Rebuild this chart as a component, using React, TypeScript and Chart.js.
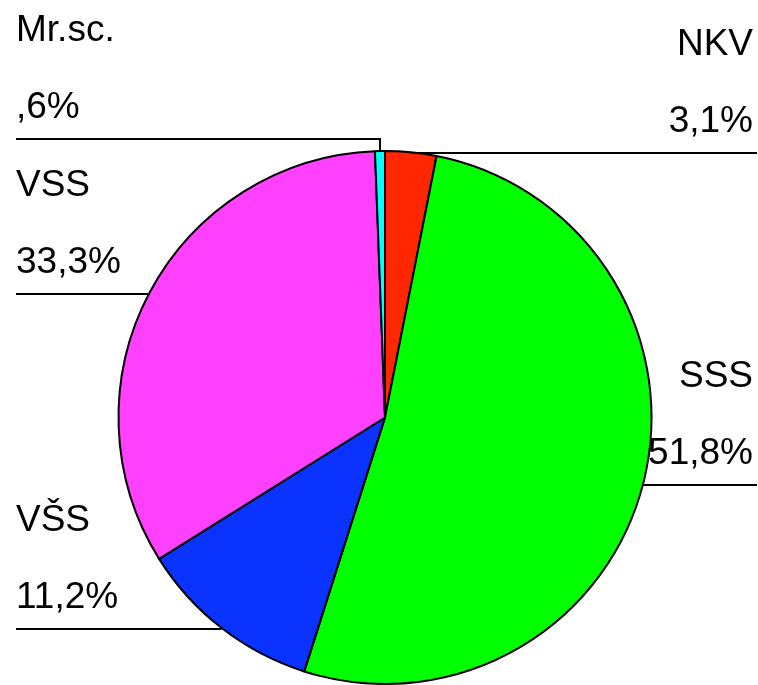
import React, { useEffect, useRef } from "react";
import { Chart, registerables } from "chart.js";

Chart.register(...registerables);

const categories = ["NKV", "SSS", "VŠS", "VSS", "Mr.sc."];
const values = [3.1, 51.8, 11.2, 33.3, 0.6];
const valueLabels = ["3,1%", "51,8%", "11,2%", "33,3%", ",6%"];
const colors = ["#FF2600", "#00FF00", "#0A33FF", "#FF40FF", "#00FFFF"];

const labelPlugin = {
  id: "leaderLabels",
  afterDraw(chart: any) {
    const ctx = chart.ctx;
    const meta = chart.getDatasetMeta(0);
    const area = chart.chartArea;
    const W = chart.width;
    ctx.save();
    ctx.strokeStyle = "#000";
    ctx.lineWidth = 2;
    ctx.fillStyle = "#000";
    ctx.font = '37px "Liberation Sans", Arial, sans-serif';
    ctx.textBaseline = "alphabetic";
    meta.data.forEach((arc: any, i: number) => {
      const p = arc.getProps(["x", "y", "startAngle", "endAngle", "outerRadius"], true);
      const mid = (p.startAngle + p.endAngle) / 2;
      const px = p.x + Math.cos(mid) * p.outerRadius;
      const py = Math.round(p.y + Math.sin(mid) * p.outerRadius) + 1;
      const right = Math.cos(mid) > 0;
      let lineY = py;
      ctx.beginPath();
      if (right) {
        ctx.moveTo(px, lineY);
        ctx.lineTo(W - 1, lineY);
      } else {
        const nearTop = py < area.top + 10;
        if (nearTop) lineY = py - 13;
        ctx.moveTo(16, lineY);
        ctx.lineTo(px, lineY);
        if (nearTop) ctx.lineTo(px, py);
      }
      ctx.stroke();
      const valY = lineY - 21;
      const nameY = valY - 77;
      ctx.textAlign = right ? "right" : "left";
      const tx = right ? W - 5 : 16;
      ctx.fillText(categories[i], tx, nameY);
      ctx.fillText(valueLabels[i], tx, valY);
    });
    ctx.restore();
  },
};

export default function App() {
  const ref = useRef<HTMLCanvasElement>(null);
  useEffect(() => {
    if (!ref.current) return;
    const chart = new Chart(ref.current, {
      type: "pie",
      data: {
        labels: categories,
        datasets: [
          {
            data: values,
            backgroundColor: colors,
            borderColor: "#000",
            borderWidth: 2,
          },
        ],
      },
      options: {
        responsive: false,
        animation: false,
        layout: { padding: { left: 117, right: 105, top: 150, bottom: 0 } },
        plugins: {
          legend: { display: false },
          tooltip: { enabled: false },
        },
      },
      plugins: [labelPlugin],
    });
    return () => chart.destroy();
  }, []);
  return (
    <div style={{ position: "absolute", left: 0, top: 0, width: 758, height: 685, background: "#fff" }}>
      <canvas ref={ref} width={758} height={685} style={{ display: "block" }} />
    </div>
  );
}
